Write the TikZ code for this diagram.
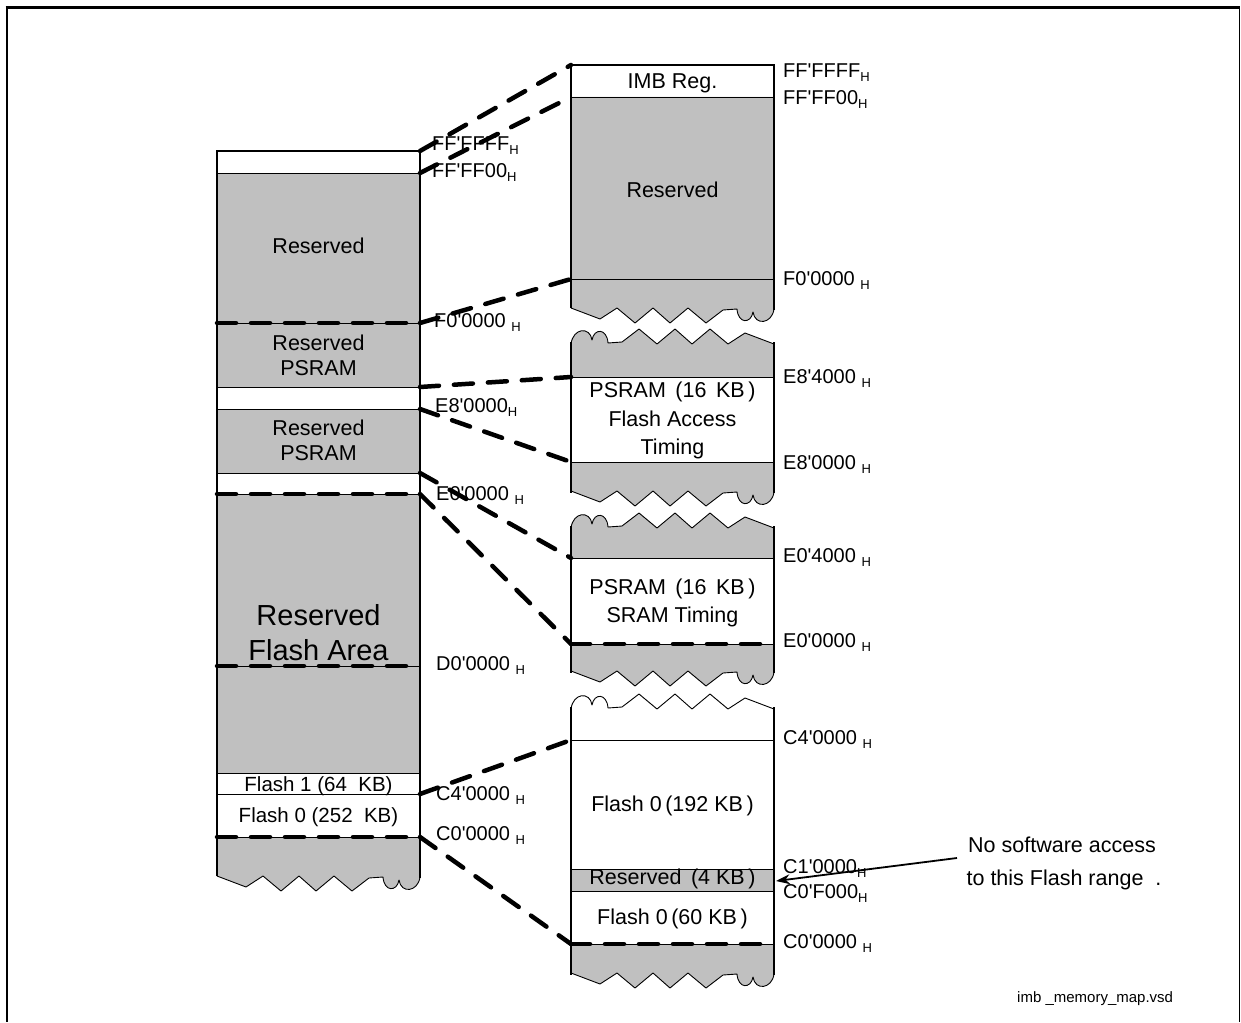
\documentclass[tikz,border=0pt]{standalone}
\usepackage{fontspec}
\setmainfont{Liberation Sans}
\usetikzlibrary{arrows.meta}
\definecolor{memgray}{HTML}{C0C0C0}
\newcommand\q{\textquotesingle}
\newcommand\Hsub{\raisebox{-4pt}{\fontsize{13}{13}\selectfont H}}
% torn bottom edge from current point (#1,#2) to (#1+203,#2)
\newcommand\tornbot[2]{%
 -- (#1+29,#2+11) -- (#1+46,#2+0) -- (#1+64,#2+15) -- (#1+82,#2+0) -- (#1+99,#2+15)
 -- (#1+117,#2+0) -- (#1+135,#2+15) -- (#1+152,#2+2) -- (#1+166,#2+1)
 .. controls (#1+167,#2+16) and (#1+180,#2+16) .. (#1+182,#2+4)
 .. controls (#1+184,#2+18) and (#1+201,#2+16) .. (#1+203,#2+1) -- (#1+203,#2)}
% torn top edge from current point (#1,#2) to (#1+203,#2)
\newcommand\torntop[2]{%
 .. controls (#1+2,#2-16) and (#1+19,#2-18) .. (#1+21,#2-4)
 .. controls (#1+23,#2-16) and (#1+36,#2-16) .. (#1+37,#2-1)
 -- (#1+51,#2-2) -- (#1+68,#2-15) -- (#1+86,#2-0) -- (#1+104,#2-15) -- (#1+121,#2-0)
 -- (#1+139,#2-15) -- (#1+157,#2-0) -- (#1+174,#2-11) -- (#1+203,#2)}
\tikzset{
 g/.style={fill=memgray},
 colline/.style={line width=2pt, line join=miter},
 sepline/.style={line width=0.8pt},
 tornline/.style={line width=0.9pt, line join=round},
 hdash/.style={line width=4.5pt, dash pattern=on 19pt off 15pt, line cap=round},
 conn/.style={line width=4.5pt, dash pattern=on 19pt off 15pt, line cap=round},
 lbl/.style={inner sep=0pt, anchor=base, font=\fontsize{21.5}{25}\selectfont},
 biglbl/.style={inner sep=0pt, anchor=base, font=\fontsize{29}{33}\selectfont},
 smlbl/.style={inner sep=0pt, anchor=base, font=\fontsize{20.5}{24}\selectfont},
 addr/.style={inner sep=0pt, anchor=base west, font=\fontsize{20}{22}\selectfont},
 ptr/.style={line width=1.8pt, -{Stealth[length=14pt,width=10pt]}},
 frameline/.style={line cap=butt}
}
\begin{document}
\begin{tikzpicture}[x=1pt,y=-1pt]
\useasboundingbox (0,0) rectangle (1241,1022);
% outer frame
\draw[frameline, line width=3pt] (5.5,8) -- (1240,8);
\draw[frameline, line width=2.5pt] (7,6.5) -- (7,1022);
\draw[frameline, line width=1.5pt] (1239.5,8) -- (1239.5,1022);

% ---------------- left column ----------------
\fill[g] (217,173) rectangle (420,387);
\fill[g] (217,409) rectangle (420,473);
\fill[g] (217,494) rectangle (420,773);
\fill[g] (217,837) -- (217,876) \tornbot{217}{876} -- (420,837) -- cycle;
\foreach \yy in {173,323,387,409,473,494,666,773,794,837}
  \draw[sepline] (217,\yy) -- (420,\yy);
\draw[tornline] (217,876) \tornbot{217}{876};
\draw[colline] (217,876) -- (217,151) -- (420,151) -- (420,878);

% ---------------- right block 1 ----------------
\fill[g] (571,97) -- (571,308) \tornbot{571}{308} -- (774,97) -- cycle;
\foreach \yy in {97,279} \draw[sepline] (571,\yy) -- (774,\yy);
\draw[tornline] (571,308) \tornbot{571}{308};
\draw[colline] (571,308) -- (571,65) -- (774,65) -- (774,310);

% ---------------- right block 2 ----------------
\fill[g] (571,344) \torntop{571}{344} -- (774,377) -- (571,377) -- cycle;
\fill[g] (571,462) -- (571,491) \tornbot{571}{491} -- (774,462) -- cycle;
\foreach \yy in {377,462} \draw[sepline] (571,\yy) -- (774,\yy);
\draw[tornline] (571,344) \torntop{571}{344};
\draw[tornline] (571,491) \tornbot{571}{491};
\draw[colline] (571,342) -- (571,493);
\draw[colline] (774,342) -- (774,493);

% ---------------- right block 3 ----------------
\fill[g] (571,528) \torntop{571}{528} -- (774,558) -- (571,558) -- cycle;
\fill[g] (571,644) -- (571,671) \tornbot{571}{671} -- (774,644) -- cycle;
\foreach \yy in {558,644} \draw[sepline] (571,\yy) -- (774,\yy);
\draw[tornline] (571,528) \torntop{571}{528};
\draw[tornline] (571,671) \tornbot{571}{671};
\draw[colline] (571,526) -- (571,673);
\draw[colline] (774,526) -- (774,673);

% ---------------- right block 4 ----------------
\fill[g] (571,869) rectangle (774,891);
\fill[g] (571,944) -- (571,973) \tornbot{571}{973} -- (774,944) -- cycle;
\foreach \yy in {740,869,891,944} \draw[sepline] (571,\yy) -- (774,\yy);
\draw[tornline] (571,709) \torntop{571}{709};
\draw[tornline] (571,973) \tornbot{571}{973};
\draw[colline] (571,707) -- (571,975);
\draw[colline] (774,707) -- (774,975);

% dashed boundaries
\foreach \yy in {323,494,666,837} \draw[hdash] (217,\yy) -- (420,\yy);
\foreach \yy in {644,944} \draw[hdash] (571,\yy) -- (774,\yy);

% ---------------- texts ----------------
\node[lbl] (tL1) at (318.5,253) {Reserved};
\node[lbl] (tL2a) at (318.5,350) {Reserved};
\node[lbl] (tL2b) at (318.5,375) {PSRAM};
\node[lbl] (tL3a) at (318.5,435) {Reserved};
\node[lbl] (tL3b) at (318.5,460) {PSRAM};
\node[biglbl] (tL4a) at (318.5,625) {Reserved};
\node[biglbl] (tL4b) at (318.5,660) {Flash Area};
\node[smlbl] (tL5) at (318.5,791) {Flash 1 (64\ \ KB)};
\node[smlbl] (tL6) at (318.5,822) {Flash 0 (252\ \ KB)};

\node[lbl] (tR1) at (672.5,89) {IMB Reg.};
\node[lbl] (tR2) at (672.5,197) {Reserved};
\node[lbl] (tR3a) at (672.5,397) {PSRAM\ \,(16\ \,KB\,)};
\node[lbl] (tR3b) at (672.5,426) {Flash Access};
\node[lbl] (tR3c) at (672.5,454) {Timing};
\node[lbl] (tR4a) at (672.5,594) {PSRAM\ \,(16\ \,KB\,)};
\node[lbl] (tR4b) at (672.5,622) {SRAM Timing};
\node[lbl] (tR5) at (672.5,811) {Flash 0\,(192\ KB\,)};
\node[lbl] (tR6) at (672.5,884) {Reserved\ \,(4\ KB\,)};
\node[lbl] (tR7) at (672.5,924) {Flash 0\,(60\ KB\,)};

% address labels, left
\node[addr] (aL1) at (432,150) {FF\q FFFF\Hsub};
\node[addr] (aL2) at (432,177) {FF\q FF00\Hsub};
\node[addr] (aL3) at (434,327) {F0\q 0000 \Hsub};
\node[addr] (aL4) at (435,412) {E8\q 0000\Hsub};
\node[addr] (aL5) at (436,500) {E0\q 0000 \Hsub};
\node[addr] (aL6) at (436,670) {D0\q 0000 \Hsub};
\node[addr] (aL7) at (436,800) {C4\q 0000 \Hsub};
\node[addr] (aL8) at (436,840) {C0\q 0000 \Hsub};
% address labels, right
\node[addr] (aR1) at (783,78) {FF\q FFFF\Hsub};
\node[addr] (aR2) at (783,105) {FF\q FF00\Hsub};
\node[addr] (aR3) at (783,285) {F0\q 0000 \Hsub};
\node[addr] (aR4) at (783,383) {E8\q 4000 \Hsub};
\node[addr] (aR5) at (783,469) {E8\q 0000 \Hsub};
\node[addr] (aR6) at (783,562) {E0\q 4000 \Hsub};
\node[addr] (aR7) at (783,647) {E0\q 0000 \Hsub};
\node[addr] (aR8) at (783,744) {C4\q 0000 \Hsub};
\node[addr] (aR9) at (783,873) {C1\q 0000\Hsub};
\node[addr] (aR10) at (783,898) {C0\q F000\Hsub};
\node[addr] (aR11) at (783,948) {C0\q 0000 \Hsub};

% note
\node[lbl] (note1) at (1062,852) {No software access};
\node[lbl] (note2) at (1064,885) {to this Flash range\ \ .};
\coordinate (noteTail) at (957,858);
\coordinate (res4k) at (776,881);
\draw[ptr] (noteTail) -- (res4k);

% file name
\node[inner sep=0pt, anchor=base west, font=\fontsize{15}{17}\selectfont] (fname) at (1017,1002) {imb \_memory\_map.vsd};

% ---------------- connectors ----------------
\coordinate (L1) at (420,151);  \coordinate (R1) at (571,65);
\coordinate (L2) at (420,173);  \coordinate (R2) at (571,97);
\coordinate (L3) at (420,323);  \coordinate (R3) at (571,279);
\coordinate (L4) at (420,387);  \coordinate (R4) at (571,377);
\coordinate (L5) at (420,409);  \coordinate (R5) at (571,462);
\coordinate (L6) at (420,473);  \coordinate (R6) at (571,558);
\coordinate (L7) at (420,494);  \coordinate (R7) at (571,644);
\coordinate (L8) at (420,794);  \coordinate (R8) at (571,740);
\coordinate (L9) at (420,837);  \coordinate (R9) at (571,944);
\foreach \i in {1,...,9} \draw[conn] (L\i) -- (R\i);
\end{tikzpicture}
\end{document}
